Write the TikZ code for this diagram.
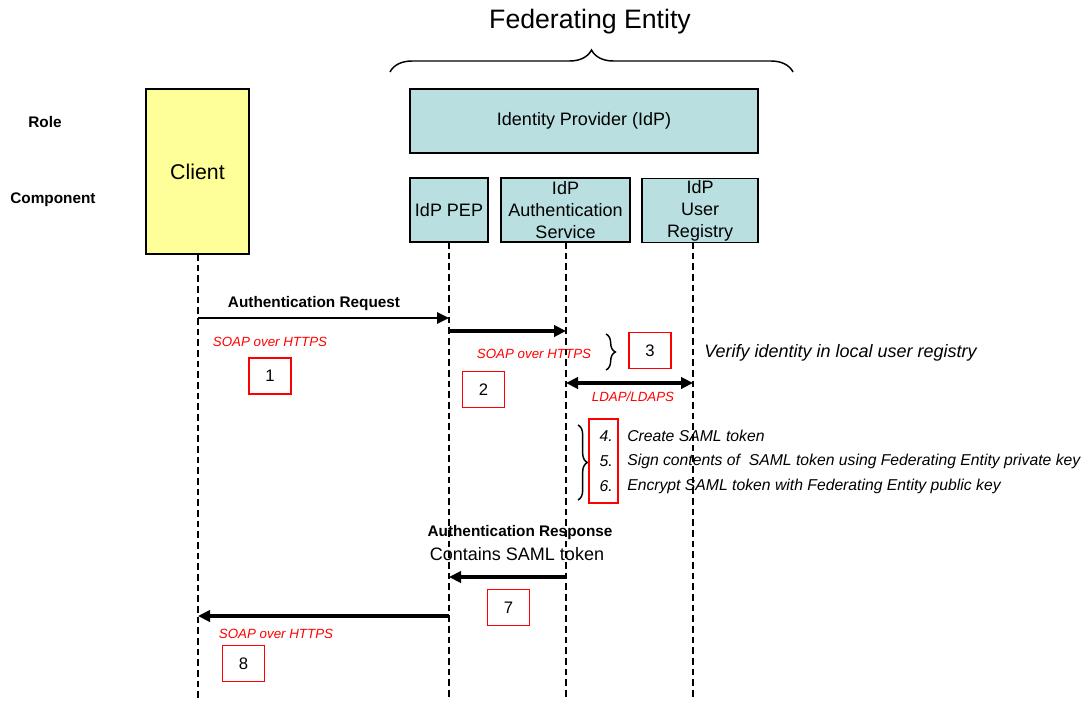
\documentclass[tikz,border=0pt]{standalone}
\usepackage{fontspec}
\setmainfont{Liberation Sans}
\usetikzlibrary{arrows.meta,decorations.pathreplacing}
\definecolor{clientyellow}{HTML}{FFFF99}
\definecolor{idpteal}{HTML}{B9DFE1}
\definecolor{numred}{HTML}{FF0000}
\begin{document}
\begin{tikzpicture}[x=0.75pt,y=-0.75pt,
  tealbox/.style={draw=black, line width=1.3pt, fill=idpteal, inner sep=0pt, align=center, font=\fontsize{13.5}{16.5}\selectfont},
  numbox/.style={draw=numred, line width=1.2pt, minimum width=31.5pt, minimum height=27pt, inner sep=0pt, font=\fontsize{12.5}{14}\selectfont},
  redlabel/.style={text=numred, font=\fontsize{10}{12}\selectfont\itshape, inner sep=0pt},
  boldlabel/.style={font=\fontsize{11.5}{13}\selectfont\bfseries, inner sep=0pt},
  lifeline/.style={line width=1.8pt, dash pattern=on 5pt off 3pt},
  msg/.style={line width=#1, -{Triangle[length=9pt,width=8.5pt]}},
  msg/.default=2.2pt,
  bracestyle/.style={line width=1.1pt, decorate, decoration={brace, amplitude=#1}},
  itemtext/.style={font=\fontsize{11.8}{13}\selectfont\itshape, inner sep=0pt}
]
\useasboundingbox (0,0) rectangle (1091,700);

% title and brace
\node[font=\fontsize{20}{24}\selectfont, inner sep=0pt] (title) at (590,22) {Federating Entity};
\coordinate (brL) at (390,72);
\coordinate (brR) at (793,72);
\draw[bracestyle=16.5pt] (brL) -- (brR);

% row labels
\node[boldlabel] (role) at (45,122) {Role};
\node[boldlabel] (comp) at (53,200) {Component};

% boxes
\node[draw=black, line width=1.3pt, fill=clientyellow, minimum width=77.25pt, minimum height=123.75pt, inner sep=0pt, font=\fontsize{16}{19}\selectfont] (client) at (197.5,171.5) {Client};
\node[tealbox, minimum width=261pt, minimum height=48pt] (idp) at (584,121) {Identity Provider (IdP)};
\node[tealbox, minimum width=58.5pt, minimum height=48pt] (pep) at (449,210) {IdP PEP};
\node[tealbox, minimum width=96.75pt, minimum height=48pt] (auth) at (565.5,210) {IdP\\Authentication\\Service};
\node[tealbox, minimum width=87pt, minimum height=48pt] (reg) at (700,210.5) {IdP\\User\\Registry};

% lifelines
\coordinate (clTop) at (198,254);
\coordinate (clBot) at (198,700);
\coordinate (pepTop) at (449,242);
\coordinate (pepBot) at (449,700);
\coordinate (auTop) at (566,242);
\coordinate (auBot) at (566,700);
\coordinate (rgTop) at (693,242);
\coordinate (rgBot) at (693,700);
\draw[lifeline] (clTop) -- (clBot);
\draw[lifeline] (pepTop) -- (pepBot);
\draw[lifeline] (auTop) -- (auBot);
\draw[lifeline] (rgTop) -- (rgBot);

% message points
\coordinate (m1a) at (198,318);
\coordinate (m1b) at (449,318);
\coordinate (m2a) at (449,331);
\coordinate (m2b) at (566,331);
\coordinate (m3a) at (566,383);
\coordinate (m3b) at (693,383);
\coordinate (m7a) at (566,577);
\coordinate (m7b) at (449,577);
\coordinate (m8a) at (449,616);
\coordinate (m8b) at (198,616);

% messages
\draw[msg=1.6pt] (m1a) -- (m1b);
\node[boldlabel] (l1) at (314,304) {Authentication Request};
\draw[msg=2.6pt] (m2a) -- (m2b);
\draw[line width=2.6pt, {Triangle[length=9pt,width=8.5pt]}-{Triangle[length=9pt,width=8.5pt]}] (m3a) -- (m3b);
\draw[msg=2.6pt] (m7a) -- (m7b);
\draw[msg=3.2pt] (m8a) -- (m8b);

% red labels
\node[redlabel] (s1) at (270,342) {SOAP over HTTPS};
\node[redlabel] (s2) at (534,354) {SOAP over HTTPS};
\node[redlabel] (s3) at (633,397) {LDAP/LDAPS};
\node[redlabel] (s8) at (276,634) {SOAP over HTTPS};

% numbered boxes
\node[numbox] (n1) at (270,376) {1};
\node[numbox] (n2) at (483.5,389.5) {2};
\node[numbox] (n3) at (650,350.5) {3};
\node[numbox] (n7) at (508.5,607.5) {7};
\node[numbox] (n8) at (243.5,663.5) {8};

% step 3
\coordinate (b3t) at (606,334);
\coordinate (b3b) at (606,370);
\draw[bracestyle=7pt] (b3t) -- (b3b);
\node[anchor=west, inner sep=0pt, font=\fontsize{13.5}{16}\selectfont\itshape] (verify) at (704,353) {Verify identity in local user registry};

% steps 4-6
\coordinate (b4t) at (578,425);
\coordinate (b4b) at (578,500);
\draw[bracestyle=7pt] (b4t) -- (b4b);
\node[draw=numred, line width=1.2pt, minimum width=21.75pt, minimum height=63pt, inner sep=0pt] (n456) at (603.5,461) {};
\node[itemtext, anchor=east] (i4) at (613,436) {4.};
\node[itemtext, anchor=east] (i5) at (613,461) {5.};
\node[itemtext, anchor=east] (i6) at (613,486) {6.};
\node[itemtext, anchor=west] (t4) at (627,436) {Create SAML token};
\node[itemtext, anchor=west] (t5) at (627,461) {Sign contents of \ SAML token using Federating Entity private key};
\node[itemtext, anchor=west] (t6) at (627,486) {Encrypt SAML token with Federating Entity public key};

% response labels
\node[boldlabel] (l7) at (520,533) {Authentication Response};
\node[inner sep=0pt, font=\fontsize{13.5}{16}\selectfont] (l7b) at (517,554) {Contains SAML token};
\end{tikzpicture}
\end{document}
